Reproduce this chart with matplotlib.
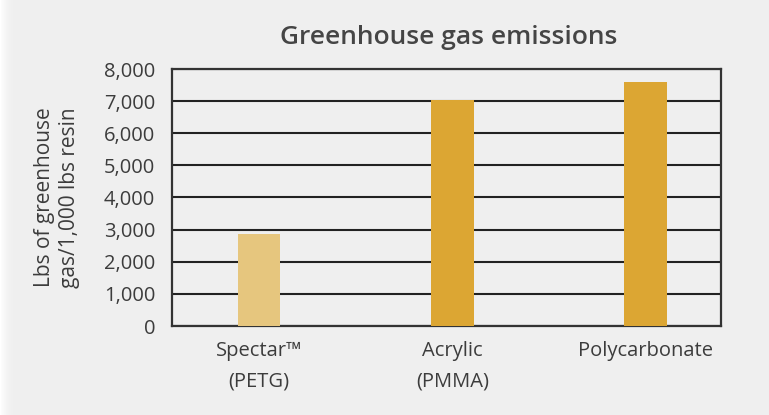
import matplotlib
matplotlib.use("Agg")
import matplotlib.pyplot as plt
import numpy as np

# data
categories = ["Spectar\u2122\n(PETG)", "Acrylic\n(PMMA)", "Polycarbonate"]
emissions = [2850, 7050, 7600]
bar_colors = ["#E6C67E", "#DCA633", "#DCA633"]
yticks = [0, 1000, 2000, 3000, 4000, 5000, 6000, 7000, 8000]

text_color = "#3c3c3c"
bg = "#EFEFEF"

plt.rcParams["font.family"] = ["Open Sans", "DejaVu Sans"]

fig = plt.figure(figsize=(7.69, 4.15), dpi=100, facecolor=bg)

# white margin / shadow on the left edge
edge = fig.add_axes([0, 0, 22 / 769, 1])
grad = np.linspace(1.0, 0.0, 22) ** 3
rgb = np.array([1.0, 1.0, 1.0]) * grad[:, None] + np.array([0xEF, 0xEF, 0xEF]) / 255 * (1 - grad[:, None])
edge.imshow(rgb[None, :, :], aspect="auto", extent=[0, 1, 0, 1])
edge.set_axis_off()

ax = fig.add_axes([172 / 769, 89 / 415, 549 / 769, 257 / 415])
ax.set_facecolor(bg)
x = np.arange(len(categories))
ax.bar(x, emissions, width=0.22, color=bar_colors, zorder=3)

ax.set_xlim(-0.45, 2.39)
ax.set_ylim(0, 8000)
ax.set_yticks(yticks)
ax.set_yticklabels([f"{v:,}" for v in yticks])
ax.set_xticks(x)
ax.set_xticklabels(categories, linespacing=1.7)
ax.tick_params(axis="both", length=0, labelsize=14.5, colors=text_color)
ax.tick_params(axis="y", pad=12)
ax.tick_params(axis="x", pad=11)

ax.yaxis.grid(True, color="#222222", linewidth=1.5, zorder=1)
ax.set_axisbelow(True)
for s in ax.spines.values():
    s.set_color("#333333")
    s.set_linewidth(1.6)

ax.set_ylabel("Lbs of greenhouse\ngas/1,000 lbs resin", fontsize=15,
              color=text_color, linespacing=1.25)
ax.yaxis.set_label_coords(-0.168, 0.5)

fig.text(0.583, 0.91, "Greenhouse gas emissions", ha="center", va="center",
         fontsize=19, fontweight="semibold", color="#454545")

fig.savefig("out.png", dpi=100, facecolor=bg)
